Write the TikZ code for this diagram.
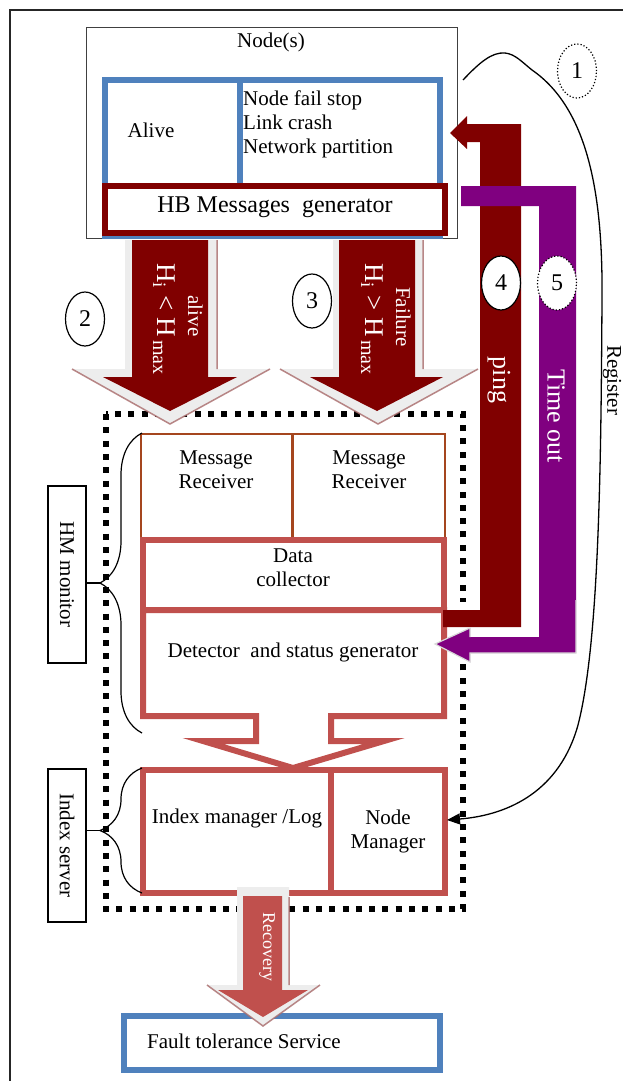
\documentclass[tikz,border=0pt]{standalone}
\usepackage{fontspec}
\setmainfont{Liberation Serif}
\usetikzlibrary{arrows.meta,decorations.pathreplacing,shapes.geometric}
\definecolor{blueC}{HTML}{4F81BD}
\definecolor{redC}{HTML}{C0504D}
\definecolor{darkredC}{HTML}{800000}
\definecolor{purpleC}{HTML}{800080}
\definecolor{brownC}{HTML}{A5461E}
\definecolor{shadowC}{HTML}{EDEDED}
\definecolor{hatchC}{HTML}{A86A6A}
\newcommand{\hcond}[1]{{\fontsize{27}{27}\selectfont H\textsubscript{i} #1 H}\,\raisebox{-4pt}{\fontsize{20}{20}\selectfont max}}
\begin{document}
\begin{tikzpicture}[x=1pt,y=-1pt,
  txt/.style={font=\fontsize{21}{24}\selectfont, inner sep=0pt},
  wtxt/.style={txt, text=white},
  frame/.style={inner sep=0pt, outer sep=0pt},
  thickbox/.style={frame, line width=6pt},
  num/.style={ellipse, draw, fill=white, line width=1.2pt, minimum width=39pt, minimum height=54pt, inner sep=0pt, font=\fontsize{24}{24}\selectfont},
  hatch/.style={hatchC, line width=1.5pt, opacity=0.8},
  bracestyle/.style={decorate, decoration={brace, amplitude=42pt}, line width=1.2pt}
]
\useasboundingbox (0,0) rectangle (623,1081);
\fill[white] (0,0) rectangle (623,1081);
\draw[line width=1.2pt, black!85] (10,1081) -- (10,10) -- (623,10);

% ---------- Node(s) ----------
\node[frame, draw=black!75, line width=0.8pt, minimum width=371pt, minimum height=211pt] (nodes) at (271.5,132.5) {};
\node[txt, anchor=base] (nodestitle) at (271,48) {Node(s)};
\node[thickbox, draw=blueC, minimum width=335pt, minimum height=156pt] (state) at (272.5,158) {};
\draw[blueC, line width=6pt] (240,80) -- (240,236);
\node[txt, anchor=base] (alive) at (151,137) {Alive};
\node[txt, anchor=base west] (f1) at (243,105) {Node fail stop};
\node[txt, anchor=base west] (f2) at (243,129) {Link crash};
\node[txt, anchor=base west] (f3) at (243,153) {Network partition};

% ---------- dotted server box ----------
\draw[line width=6pt, dash pattern=on 6pt off 7.3pt] (106,414) rectangle (463,909);

% ---------- fat arrows 2 and 3 ----------
\fill[shadowC] (125,240) -- (217,240) -- (217,369) -- (270,369) -- (170,424) -- (72,369) -- (125,369) -- cycle;
\draw[hatch] (217,240) -- (217,369) (270,369) -- (170,424) -- (72,369);
\fill[darkredC] (132,240) -- (208,240) -- (208,377) -- (237,377) -- (170,411) -- (103,377) -- (132,377) -- cycle;
\fill[shadowC] (333,240) -- (423,240) -- (423,369) -- (478,369) -- (378,424) -- (280,369) -- (333,369) -- cycle;
\draw[hatch] (423,240) -- (423,369) (478,369) -- (378,424) -- (280,369);
\fill[darkredC] (339,240) -- (415,240) -- (415,377) -- (443,377) -- (377,411) -- (310,377) -- (339,377) -- cycle;
\node[wtxt, rotate=-90, anchor=base west] (h2) at (157,263) {\hcond{<}};
\node[wtxt, rotate=-90, anchor=base] (alivelbl) at (188,316) {alive};
\node[wtxt, rotate=-90, anchor=base west] (h3) at (365,263) {\hcond{>}};
\node[wtxt, rotate=-90, anchor=base] (faillbl) at (396,317) {Failure};

% ---------- HB generator ----------
\node[thickbox, draw=darkredC, fill=white, minimum width=340pt, minimum height=47pt] (hb) at (275,209.5) {};
\node[txt, anchor=base, font=\fontsize{24}{24}\selectfont] (hbtxt) at (275,212) {HB Messages\ \ generator};

% ---------- HM monitor internals ----------
\node[frame, draw=brownC, line width=1.5pt, minimum width=151pt, minimum height=104pt] (mr1) at (216.5,486) {};
\node[frame, draw=brownC, line width=1.5pt, minimum width=152pt, minimum height=104pt] (mr2) at (369,486) {};
\node[txt, align=center] (mr1t) at (216,470) {Message\\Receiver};
\node[txt, align=center] (mr2t) at (369,470) {Message\\Receiver};
\node[thickbox, draw=redC, minimum width=301pt, minimum height=70pt] (dc) at (293.5,575) {};
\node[txt, align=center] (dct) at (293,568) {Data\\collector};
\draw[redC, line width=6pt, miter limit=10] (331,716) -- (444,716) -- (444,610) -- (143,610) -- (143,716) -- (256,716) -- (256,741) -- (203,741) -- (293,768) -- (384,741) -- (331,741) -- cycle;
\node[txt, anchor=base] (dett) at (293,657) {Detector\ \ and status generator};

% ---------- Index server internals ----------
\node[thickbox, draw=redC, minimum width=188pt, minimum height=123pt] (im) at (237,831.5) {};
\node[thickbox, draw=redC, minimum width=113.5pt, minimum height=123pt] (nm) at (387.75,831.5) {};
\node[txt, anchor=base] (imt) at (237,823) {Index manager /Log};
\node[txt, align=center] (nmt) at (388,831) {Node\\Manager};

% ---------- ping and time out ----------
\fill[white] (452,602) rectangle (472,664);
\fill[darkredC] (450,133) -- (467,116) -- (467,124) -- (521,124) -- (521,627) -- (443,627) -- (443,610) -- (480,610) -- (480,142) -- (467,142) -- (467,149) -- cycle;
\fill[purpleC] (461,186) -- (576,186) -- (576,653) -- (470,653) -- (470,662) -- (435,644) -- (470,628) -- (470,637) -- (539,637) -- (539,206) -- (461,206) -- cycle;
\draw[black!15, line width=1.2pt] (576,600) -- (576,653) -- (470,653) -- (470,662) -- (435,644) -- (470,628) -- (470,637);
\node[wtxt, rotate=-90, font=\fontsize{26}{26}\selectfont] (ping) at (499,380) {ping};
\node[wtxt, rotate=-90, font=\fontsize{26}{26}\selectfont] (timeout) at (556,416) {Time out};

% ---------- numbered circles ----------
\node[num, dotted] (c1) at (577,71) {1};
\node[num] (c2) at (85,319) {2};
\node[num] (c3) at (312,301) {3};
\node[num] (c4) at (501,283) {4};
\node[num, dotted] (c5) at (557,283) {5};

% ---------- Register curve ----------
\coordinate (r0) at (463,80);
\coordinate (r1) at (505,53);
\coordinate (r2) at (532,70);
\coordinate (r3) at (602,300);
\coordinate (r4) at (578,725);
\coordinate (r5) at (447,820);
\draw[line width=1.3pt, -{Triangle[length=13pt,width=11pt]}] (r0) .. controls (480,62) and (492,52) .. (r1) .. controls (515,54) and (522,62) .. (r2) .. controls (590,110) and (603,200) .. (r3) .. controls (601,450) and (600,640) .. (r4) .. controls (560,790) and (510,815) .. (r5);
\node[txt, rotate=-90] (register) at (612,380) {Register};

% ---------- side labels with braces ----------
\node[frame, draw, line width=1.2pt, minimum width=38pt, minimum height=177pt] (hm) at (67,574.5) {};
\node[txt, rotate=-90] (hmt) at (67,574.5) {HM monitor};
\node[frame, draw, line width=1.2pt, minimum width=38pt, minimum height=153pt] (is) at (67,845.5) {};
\node[txt, rotate=-90] (ist) at (67,845.5) {Index server};
\draw[bracestyle] (142,733) -- (142,433);
\draw[bracestyle] (142,893) -- (142,768);
\coordinate (tiphm) at (100,583);
\coordinate (tipis) at (100,830.5);
\draw[line width=1.2pt] (hm.east |- tiphm) -- (tiphm);
\draw[line width=1.2pt] (is.east |- tipis) -- (tipis);

% ---------- Fault tolerance + recovery ----------
\node[thickbox, draw=blueC, minimum width=316pt, minimum height=54pt] (fts) at (282,1043) {};
\node[txt, anchor=base west] (ftst) at (147,1048) {Fault tolerance Service};
\fill[shadowC] (237,887) -- (289,887) -- (289,985) -- (320,985) -- (263,1026) -- (207,985) -- (237,985) -- cycle;
\draw[hatch] (289,897) -- (289,985) (320,985) -- (263,1026) -- (207,985);
\fill[redC] (243,896) -- (282,896) -- (282,990) -- (308,990) -- (263,1017) -- (218,990) -- (243,990) -- cycle;
\node[wtxt, rotate=-90, font=\fontsize{18}{18}\selectfont] (recovery) at (267,947) {Recovery};
\end{tikzpicture}
\end{document}
